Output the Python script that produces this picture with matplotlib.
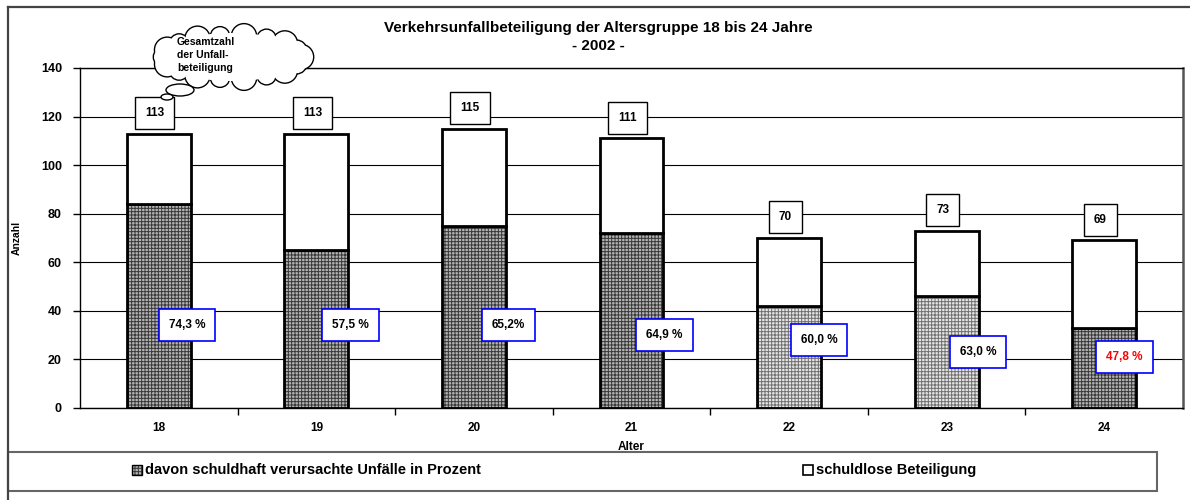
import numpy as np
import matplotlib
matplotlib.use("Agg")
import matplotlib.pyplot as plt
from matplotlib.patches import Rectangle, Ellipse, Circle

ages = ["18", "19", "20", "21", "22", "23", "24"]
totals = np.array([113, 113, 115, 111, 70, 73, 69])
at_fault = np.array([84, 65, 75, 72, 42, 46, 33])
pct_labels = ["74,3 %", "57,5 %", "65,2%", "64,9 %", "60,0 %", "63,0 %", "47,8 %"]
light_pattern = [False, False, False, False, True, True, False]

# where the percentage boxes sit (layout only)
pct_y = [34, 34, 34, 30, 28, 23, 21]
pct_dx = [0.18, 0.215, 0.22, 0.21, 0.19, 0.2, 0.13]

plt.rcParams["font.family"] = ["Liberation Sans", "DejaVu Sans"]
plt.rcParams["font.weight"] = "bold"
plt.rcParams["axes.labelweight"] = "bold"
plt.rcParams["hatch.linewidth"] = 0.7

dark_fc, dark_hc = "#b4b4b4", "#383838"
light_fc, light_hc = "#e6e6e6", "#707070"

fig = plt.figure(figsize=(11.9, 5), dpi=100)
ax = fig.add_axes([80 / 1190, 92 / 500, 1103 / 1190, 340 / 500])

x = np.arange(len(ages))
w = 0.405
innocent = totals - at_fault
fcs = [light_fc if l else dark_fc for l in light_pattern]
hcs = [light_hc if l else dark_hc for l in light_pattern]

ax.bar(x, at_fault, w, color=fcs, edgecolor=hcs, hatch="+++++", linewidth=0, zorder=2)
ax.bar(x, at_fault, w, fill=False, edgecolor="black", linewidth=2, zorder=3)
ax.bar(x, innocent, w, bottom=at_fault, color="white", edgecolor="black", linewidth=2, zorder=3)

ax.set_xlim(-0.5, 6.5)
ax.set_ylim(0, 140)
ax.set_yticks(range(0, 141, 20))
ax.yaxis.grid(True, color="black", lw=0.8)
ax.set_axisbelow(True)
ax.tick_params(axis="y", length=5, width=1, pad=8, labelsize=9)

ax.set_xticks(x, ages)
ax.tick_params(axis="x", which="major", length=0, pad=10, labelsize=8.5)
ax.set_xticks(x[:-1] + 0.5, minor=True)
ax.tick_params(axis="x", which="minor", length=5, width=1, direction="out")

for s in ["left", "bottom", "top"]:
    ax.spines[s].set_color("black")
    ax.spines[s].set_linewidth(1)
ax.spines["right"].set_color("#555555")
ax.spines["right"].set_linewidth(1.8)

ax.set_xlabel("Alter", fontsize=8.5, labelpad=5)
ax.set_ylabel("Anzahl", fontsize=7.5)
ax.yaxis.set_label_coords(-0.053, 0.5)

for i, t in enumerate(totals):
    ax.text(i - 0.025, t + 8.5, str(t), ha="center", va="center", fontsize=8.5,
            bbox=dict(boxstyle="square,pad=0.85", fc="white", ec="black", lw=1), zorder=5)

for i, lab in enumerate(pct_labels):
    col = "red" if i == len(pct_labels) - 1 else "black"
    ax.text(i + pct_dx[i], pct_y[i], lab, ha="center", va="center", fontsize=8.5, color=col,
            bbox=dict(boxstyle="square,pad=0.85", fc="white", ec="#0000ff", lw=1.2), zorder=5)

# overlay in pixel coordinates for frame, title, cloud and legend
fax = fig.add_axes([0, 0, 1, 1])
fax.set_xlim(0, 1190)
fax.set_ylim(500, 0)
fax.axis("off")
fax.patch.set_visible(False)

fax.plot([8, 1190], [7, 7], color="#444444", lw=1.6)
fax.plot([8, 8], [7, 500], color="#444444", lw=1.6)

fax.text(598, 28, "Verkehrsunfallbeteiligung der Altersgruppe 18 bis 24 Jahre",
         ha="center", va="center", fontsize=11)
fax.text(598, 46, "- 2002 -", ha="center", va="center", fontsize=11)

# cloud callout
ang = np.linspace(0, 2 * np.pi, 19)[:-1]
cx, cy = 232, 57
radii = [12 if k % 2 == 0 else 9 for k in range(len(ang))]
for a, r in zip(ang, radii):
    fax.add_patch(Circle((cx + 69 * np.cos(a), cy + 21 * np.sin(a)), r,
                         fc="white", ec="black", lw=2, zorder=1))
for a, r in zip(ang, radii):
    fax.add_patch(Circle((cx + 69 * np.cos(a), cy + 21 * np.sin(a)), r,
                         fc="white", ec="none", zorder=2))
fax.add_patch(Ellipse((cx, cy), 146, 48, fc="white", ec="none", zorder=2))
fax.add_patch(Ellipse((180, 90), 28, 12, fc="white", ec="black", lw=1, zorder=3))
fax.add_patch(Ellipse((167, 97), 12, 6, fc="white", ec="black", lw=1, zorder=3))
fax.text(177, 55, "Gesamtzahl\nder Unfall-\nbeteiligung", ha="left", va="center",
         fontsize=7.5, linespacing=1.35, zorder=4)

# legend
fax.add_patch(Rectangle((8, 452), 1149, 39, fill=False, ec="#666666", lw=1.5))
fax.add_patch(Rectangle((132, 465), 10, 10, fc=dark_fc, ec=dark_hc, hatch="+++++", lw=0))
fax.add_patch(Rectangle((132, 465), 10, 10, fill=False, ec="black", lw=1))
fax.text(145, 470, "davon schuldhaft verursachte Unfälle in Prozent", ha="left", va="center",
         fontsize=10.5)
fax.add_patch(Rectangle((803, 465), 10, 10, fc="white", ec="black", lw=1.2))
fax.text(816, 470, "schuldlose Beteiligung", ha="left", va="center", fontsize=10.5)

fig.savefig("out.png", dpi=100)
